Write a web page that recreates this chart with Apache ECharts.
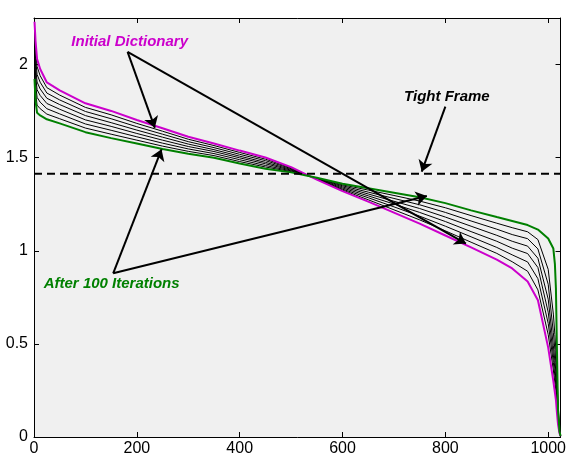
<!DOCTYPE html>
<html>
<head>
<meta charset="utf-8">
<script src="https://cdn.jsdelivr.net/npm/echarts@6/dist/echarts.min.js"></script>
<style>
html,body{margin:0;padding:0;background:#fff;}
#chart{width:569px;height:459px;}
</style>
</head>
<body>
<div id="chart"></div>
<script>
// Sample positions (index along sorted axis)
const X = [1,3,6,12,25,50,100,150,200,250,300,350,400,450,500,550,600,650,700,750,800,850,900,930,960,980,1000,1010,1013,1015,1017,1019,1022,1024];
// Initial dictionary (magenta)
const initialDict = [2.23,2.126,2.03,1.976,1.904,1.861,1.792,1.751,1.702,1.658,1.612,1.576,1.538,1.501,1.449,1.382,1.320,1.264,1.205,1.146,1.082,1.018,0.953,0.905,0.835,0.734,0.48,0.30,0.24,0.20,0.13,0.07,0.02,0.005];
// Intermediate iterations (black)
const iter1 = [2.186,2.080,1.989,1.940,1.876,1.836,1.770,1.730,1.684,1.642,1.599,1.565,1.528,1.492,1.445,1.383,1.326,1.274,1.220,1.166,1.107,1.046,0.986,0.941,0.890,0.790,0.55,0.36,0.29,0.25,0.17,0.10,0.025,0.005];
const iter2 = [2.142,2.034,1.947,1.905,1.847,1.810,1.748,1.709,1.666,1.626,1.586,1.554,1.518,1.484,1.441,1.385,1.331,1.285,1.236,1.186,1.132,1.075,1.018,0.978,0.940,0.850,0.61,0.40,0.33,0.28,0.20,0.12,0.03,0.005];
const iter3 = [2.098,1.988,1.906,1.869,1.819,1.785,1.726,1.688,1.648,1.610,1.573,1.543,1.508,1.475,1.437,1.386,1.337,1.295,1.251,1.206,1.157,1.103,1.051,1.014,0.985,0.910,0.67,0.44,0.37,0.31,0.23,0.14,0.03,0.005];
const iter4 = [2.055,1.943,1.865,1.834,1.791,1.760,1.703,1.668,1.630,1.594,1.560,1.533,1.499,1.467,1.433,1.388,1.343,1.305,1.266,1.227,1.181,1.132,1.083,1.051,1.025,0.960,0.74,0.49,0.41,0.35,0.26,0.16,0.03,0.005];
const iter5 = [2.011,1.897,1.824,1.798,1.763,1.735,1.681,1.647,1.612,1.578,1.547,1.522,1.489,1.458,1.429,1.389,1.349,1.315,1.281,1.247,1.206,1.160,1.116,1.087,1.065,1.010,0.82,0.56,0.47,0.40,0.30,0.18,0.03,0.005];
const iter6 = [1.967,1.851,1.782,1.763,1.734,1.709,1.659,1.626,1.594,1.562,1.534,1.511,1.479,1.450,1.425,1.391,1.354,1.326,1.297,1.267,1.231,1.189,1.148,1.124,1.102,1.060,0.90,0.66,0.55,0.466,0.35,0.20,0.03,0.005];
// After 100 iterations (green)
const after100 = [1.923,1.805,1.741,1.727,1.706,1.684,1.637,1.605,1.576,1.546,1.521,1.500,1.469,1.441,1.421,1.392,1.360,1.336,1.312,1.287,1.256,1.217,1.181,1.160,1.138,1.114,1.066,1.012,0.93,0.80,0.47,0.15,0.03,0.005];
const tightFrame = Math.SQRT2;
const xTicks = [0,200,400,600,800,1000];
const yTicks = [0,0.5,1,1.5,2];

// Annotations (data coordinates)
const annoTexts = [
  {text:'Initial Dictionary', pos:[186,2.121], color:'#cc00cc'},
  {text:'Tight Frame', pos:[803,1.826], color:'#000000'},
  {text:'After 100 Iterations', pos:[151,0.822], color:'#008000'}
];
const arrows = [
  [[182,2.068],[235,1.660]],
  [[182,2.068],[840,1.039]],
  [[800,1.774],[754,1.425]],
  [[154,0.879],[248,1.545]],
  [[154,0.879],[764,1.294]]
];

const pairs = arr => X.map((x,i)=>[x,arr[i]]);
const FONT = '"Liberation Sans", Arial, Helvetica, sans-serif';

const chart = echarts.init(document.getElementById('chart'), null, {renderer:'canvas'});

const axisCommon = {
  type:'value',
  axisLine:{show:true, onZero:false, lineStyle:{color:'#000', width:1}},
  axisTick:{show:true, inside:true, length:5, lineStyle:{color:'#000', width:1}},
  splitLine:{show:false}
};

const blackLines = [iter1,iter2,iter3,iter4,iter5,iter6].map((arr,i)=>({
  type:'line', name:'iter'+(i+1), data:pairs(arr), showSymbol:false, symbol:'none',
  lineStyle:{color:'#000', width:1}, z:2, silent:true
}));

const option = {
  animation:false,
  backgroundColor:'#ffffff',
  grid:{left:34, right:7, top:18, bottom:22, show:true, backgroundColor:'#f0f0f0', borderWidth:0, containLabel:false},
  xAxis:[
    Object.assign({}, axisCommon, {position:'bottom', min:0, max:1024, interval:200,
      axisLabel:{show:true, color:'#000', fontSize:16, fontFamily:FONT, margin:4, showMaxLabel:false,
        formatter: v => xTicks.includes(v) ? String(v) : ''}}),
    Object.assign({}, axisCommon, {position:'top', min:0, max:1024, interval:200, axisLabel:{show:false}})
  ],
  yAxis:[
    Object.assign({}, axisCommon, {position:'left', min:0, max:2.25, interval:0.5,
      axisLabel:{show:true, color:'#000', fontSize:16, fontFamily:FONT, margin:6, showMaxLabel:false,
        formatter: v => yTicks.includes(v) ? String(v) : ''}}),
    Object.assign({}, axisCommon, {position:'right', min:0, max:2.25, interval:0.5, axisLabel:{show:false}})
  ],
  series:[
    ...blackLines,
    {type:'line', name:'Initial', data:pairs(initialDict), showSymbol:false, symbol:'none',
      lineStyle:{color:'#cc00cc', width:2}, z:3, silent:true},
    {type:'line', name:'After100', data:pairs(after100), showSymbol:false, symbol:'none',
      lineStyle:{color:'#008000', width:2}, z:4, silent:true},
    {type:'line', name:'TightFrame', data:[[0,tightFrame],[1024,tightFrame]], showSymbol:false, symbol:'none',
      lineStyle:{color:'#000', width:2, type:[8,5]}, z:5, silent:true},
    {type:'line', name:'arrows', data:[], silent:true, z:6,
      markLine:{silent:true, symbol:['none','arrow'], symbolSize:11, animation:false,
        label:{show:false}, emphasis:{disabled:true},
        lineStyle:{color:'#000', width:2, type:'solid'},
        data: arrows.map(a=>[{coord:a[0]},{coord:a[1]}])}},
    {type:'scatter', name:'labels', symbolSize:0, silent:true, z:7,
      itemStyle:{opacity:1},
      data: annoTexts.map(t=>({value:t.pos, label:{show:true, formatter:t.text, color:t.color, opacity:1,
        textBorderWidth:0, textBorderColor:'transparent', textShadowBlur:0}})),
      label:{show:true, position:'inside', opacity:1, fontSize:15, fontWeight:'bold', fontStyle:'italic', fontFamily:FONT,
        textBorderWidth:0, textBorderColor:'transparent'}}
  ]
};
chart.setOption(option);
</script>
</body>
</html>
